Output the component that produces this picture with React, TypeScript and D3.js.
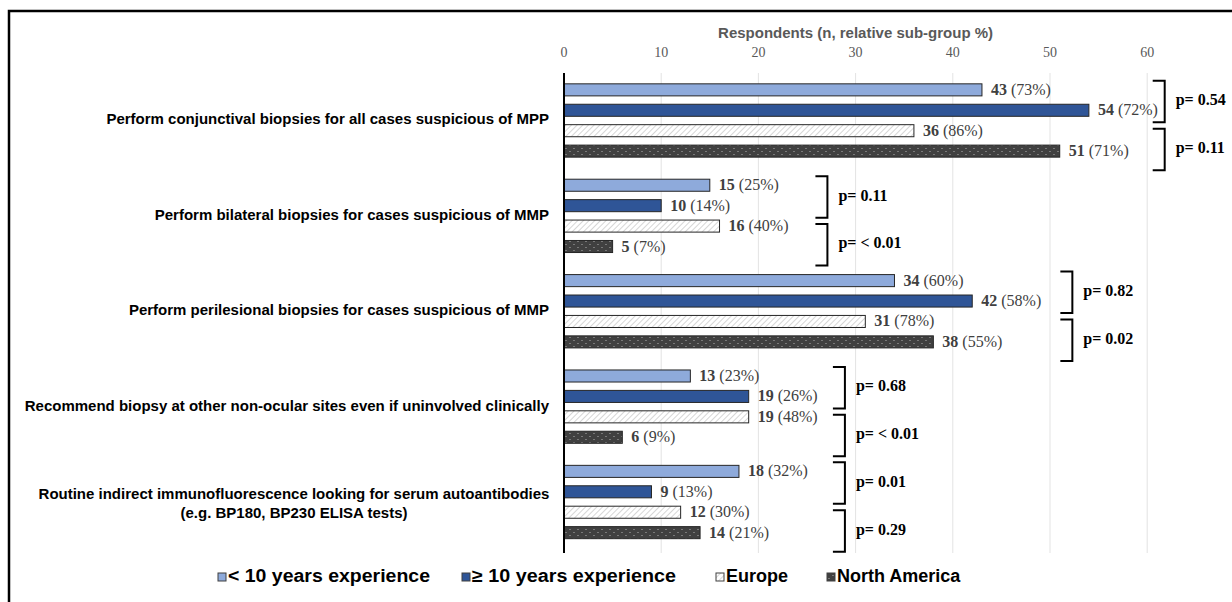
import * as d3 from "d3";

// categories (top to bottom)
const categories = [
  ["Perform conjunctival biopsies for all cases suspicious of MPP"],
  ["Perform bilateral biopsies for cases suspicious of MMP"],
  ["Perform perilesional biopsies for cases suspicious of MMP"],
  ["Recommend biopsy at other non-ocular sites even if uninvolved clinically"],
  ["Routine indirect immunofluorescence looking for serum autoantibodies", "(e.g. BP180, BP230 ELISA tests)"],
];

const seriesNames = ["< 10 years experience", "\u2265 10 years experience", "Europe", "North America"];

// respondents (n) and relative sub-group %
const lessThan10 = [43, 15, 34, 13, 18];
const lessThan10Pct = [73, 25, 60, 23, 32];
const atLeast10 = [54, 10, 42, 19, 9];
const atLeast10Pct = [72, 14, 58, 26, 13];
const europe = [36, 16, 31, 19, 12];
const europePct = [86, 40, 78, 48, 30];
const northAmerica = [51, 5, 38, 6, 14];
const northAmericaPct = [71, 7, 55, 9, 21];

// p-values: experience comparison, region comparison
const pExperience = ["0.54", "0.11", "0.82", "0.68", "0.01"];
const pRegion = ["0.11", "< 0.01", "0.02", "< 0.01", "0.29"];
// where the p brackets sit, in axis units
const bracketAt = [61.8, 27.1, 52.3, 28.9, 28.9];

const xTicks = [0, 10, 20, 30, 40, 50, 60];

const W = 1232;
const H = 602;

const fills = ["#8eaadb", "#2f5597", "url(#hatch)", "url(#dots)"];
const legendX = [218, 462, 716, 827];
const legendLen = [202, 204, 0, 0];

export default function App() {
  const values = [lessThan10, atLeast10, europe, northAmerica];
  const pcts = [lessThan10Pct, atLeast10Pct, europePct, northAmericaPct];

  const x = d3.scaleLinear().domain([0, 60]).range([564, 1147.2]);
  const y0 = d3
    .scaleBand<number>()
    .domain(d3.range(categories.length))
    .range([72.8, 549.7]);
  const y1 = d3
    .scaleBand<number>()
    .domain(d3.range(seriesNames.length))
    .range([0, y0.bandwidth()])
    .paddingInner(0.41)
    .paddingOuter(0.54);

  const bh = y1.bandwidth();
  const serif = "'Liberation Serif', 'Times New Roman', serif";
  const sans = "'Liberation Sans', Arial, sans-serif";

  return (
    <svg
      width={W}
      height={H}
      style={{ position: "absolute", left: 0, top: 0, background: "#fff" }}
    >
      <defs>
        <pattern id="hatch" width={4} height={4} patternUnits="userSpaceOnUse" patternTransform="rotate(45)">
          <rect width={4} height={4} fill="#fff" />
          <line x1={0} y1={0} x2={0} y2={4} stroke="#b5b5b5" strokeWidth={1.1} />
        </pattern>
        <pattern id="dots" width={8} height={6} patternUnits="userSpaceOnUse">
          <rect width={8} height={6} fill="#404040" />
          <circle cx={2} cy={1.5} r={0.6} fill="#bdbdbd" />
          <circle cx={6} cy={4.5} r={0.6} fill="#bdbdbd" />
        </pattern>
      </defs>

      {/* frame */}
      <path d={`M9,${H} V11 H${W}`} fill="none" stroke="#000" strokeWidth={2.5} />

      {/* axis title */}
      <text
        x={(x(0) + x(60)) / 2}
        y={34}
        textAnchor="middle"
        dominantBaseline="middle"
        fontFamily={sans}
        fontWeight="bold"
        fontSize={15}
        fill="#595959"
      >
        Respondents (n, relative sub-group %)
      </text>

      {/* gridlines + tick labels */}
      {xTicks.map((t) => (
        <g key={t}>
          {t > 0 && (
            <line x1={x(t)} x2={x(t)} y1={73} y2={553} stroke="#e3e3e3" strokeWidth={1} />
          )}
          <text
            x={x(t)}
            y={54}
            textAnchor="middle"
            dominantBaseline="middle"
            fontFamily={serif}
            fontSize={14}
            fill="#595959"
          >
            {t}
          </text>
        </g>
      ))}

      {/* bars */}
      {categories.map((cat, i) => {
        const gy = y0(i)!;
        const cy = gy + y0.bandwidth() / 2;
        return (
          <g key={i}>
            {cat.length === 1 ? (
              <text
                x={549}
                y={cy}
                textAnchor="end"
                dominantBaseline="middle"
                fontFamily={sans}
                fontWeight="bold"
                fontSize={15}
                fill="#000"
              >
                {cat[0]}
              </text>
            ) : (
              <text
                fontFamily={sans}
                fontWeight="bold"
                fontSize={15}
                fill="#000"
                textAnchor="middle"
                dominantBaseline="middle"
              >
                <tspan x={294} y={cy - 7}>{cat[0]}</tspan>
                <tspan x={294} y={cy + 12}>{cat[1]}</tspan>
              </text>
            )}
            {values.map((vals, s) => {
              const by = gy + y1(s)!;
              return (
                <g key={s}>
                  <rect
                    x={x(0)}
                    y={by}
                    width={x(vals[i]) - x(0)}
                    height={bh}
                    fill={fills[s]}
                    stroke="#262626"
                    strokeWidth={1}
                  />
                  <text
                    x={x(vals[i]) + 9}
                    y={by + bh / 2 + 1}
                    dominantBaseline="middle"
                    fontFamily={serif}
                    fontSize={16}
                    fill="#404040"
                  >
                    <tspan fontWeight="bold">{vals[i]}</tspan>
                    <tspan>{` (${pcts[s][i]}%)`}</tspan>
                  </text>
                </g>
              );
            })}
            {[0, 1].map((k) => {
              const top = k === 0 ? gy + y1(0)! - 3 : gy + y1(2)! + 4;
              const bot = k === 0 ? gy + y1(1)! + bh + 6 : gy + y1(3)! + bh + 13;
              const bx = x(bracketAt[i]);
              const label = k === 0 ? pExperience[i] : pRegion[i];
              return (
                <g key={k}>
                  <path
                    d={`M${bx - 12},${top} H${bx} V${bot} H${bx - 12}`}
                    fill="none"
                    stroke="#000"
                    strokeWidth={2}
                  />
                  <text
                    x={bx + 11}
                    y={(top + bot) / 2}
                    dominantBaseline="middle"
                    fontFamily={serif}
                    fontWeight="bold"
                    fontSize={16}
                    fill="#000"
                  >
                    {`p= ${label}`}
                  </text>
                </g>
              );
            })}
          </g>
        );
      })}

      {/* value axis line */}
      <line x1={x(0)} x2={x(0)} y1={73} y2={553} stroke="#000" strokeWidth={2} />

      {/* legend */}
      {seriesNames.map((name, s) => (
        <g key={name} transform={`translate(${legendX[s]},577)`}>
          <rect x={0} y={-4} width={8} height={8} fill={fills[s]} stroke="#404040" strokeWidth={1} />
          <text
            x={10}
            y={0}
            dominantBaseline="middle"
            fontFamily={sans}
            fontWeight="bold"
            fontSize={18}
            fill="#000"
            textLength={legendLen[s] || undefined}
            lengthAdjust={legendLen[s] ? "spacingAndGlyphs" : undefined}
          >
            {name}
          </text>
        </g>
      ))}
    </svg>
  );
}
